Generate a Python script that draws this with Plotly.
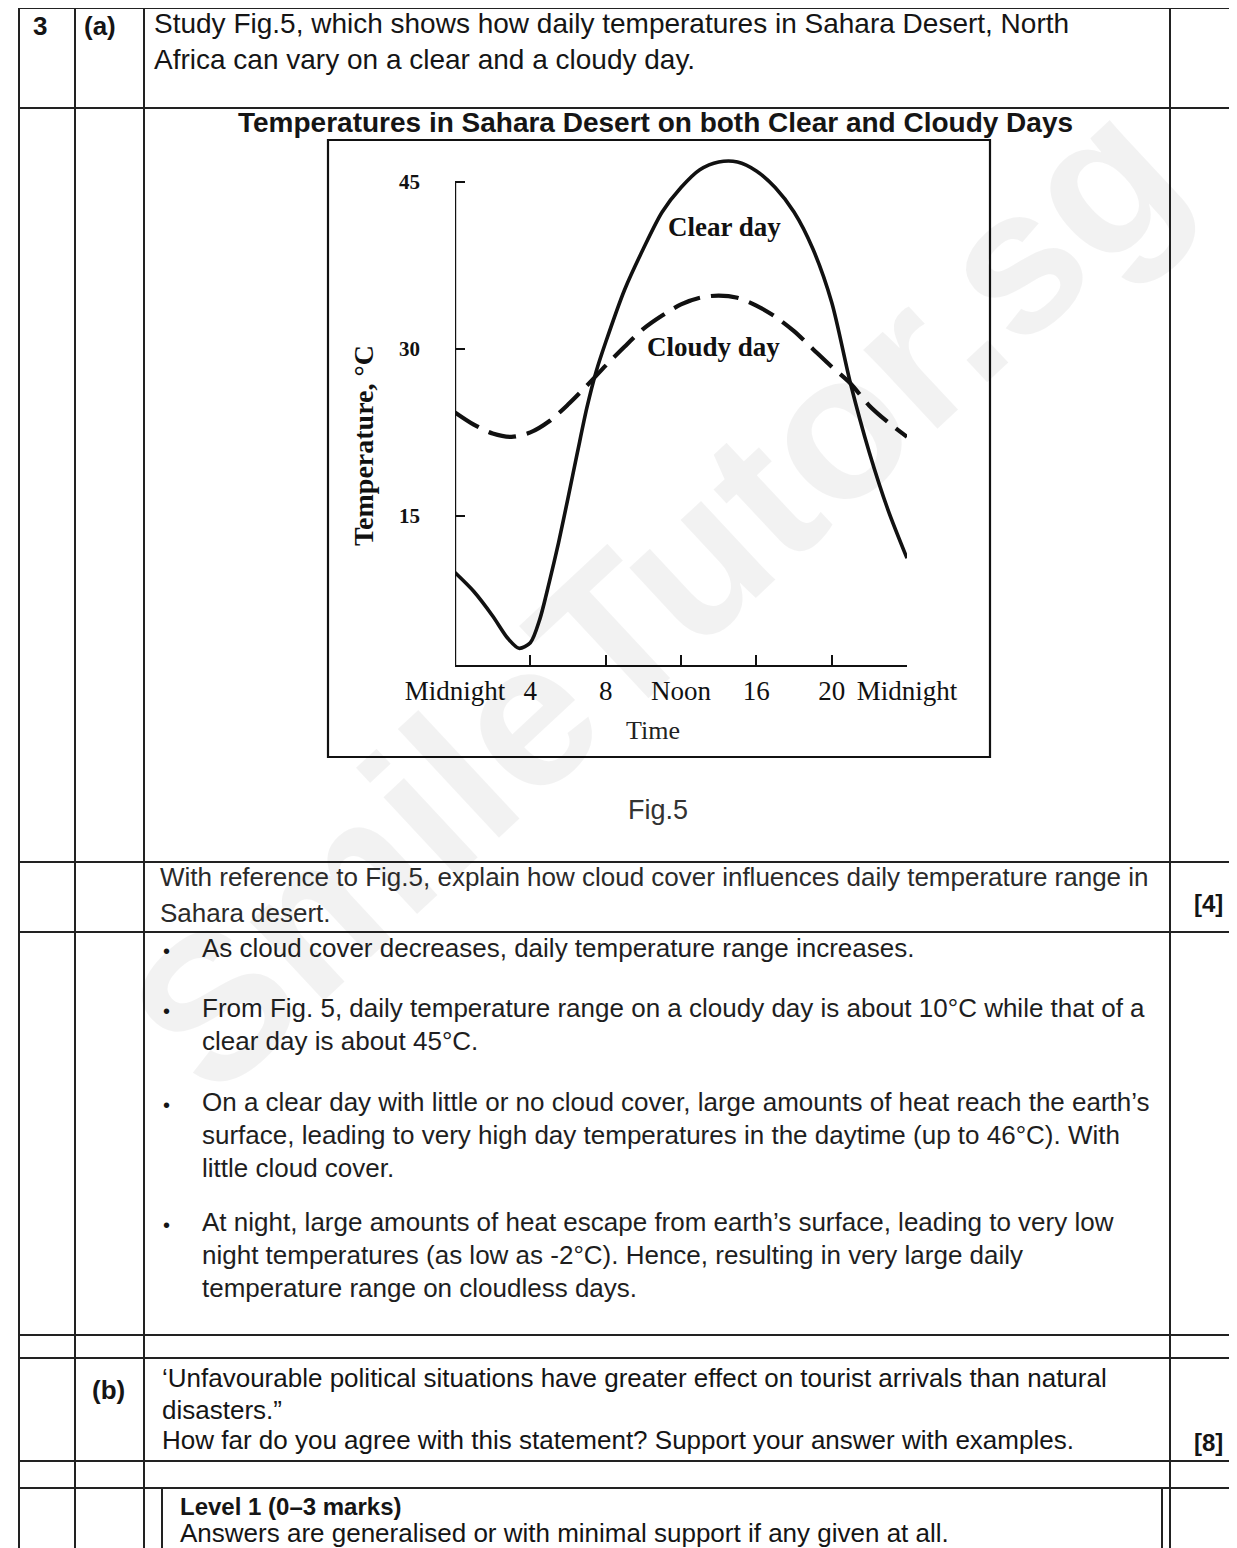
import plotly.graph_objects as go

W, H = 1237, 1548
OFF = 8  # page body margin

# ---------------- data ----------------
hours = [0, 1, 2, 2.8, 3.4, 4, 4.5, 5, 5.5, 6, 6.5, 7, 7.5, 8, 9, 10, 11, 12, 13, 14, 15, 16, 17, 18, 19, 20, 21, 22, 23, 24]
clear_day = [9.9, 8.2, 6.0, 4.0, 3.1, 3.6, 5.7, 9.0, 12.6, 16.6, 20.7, 24.7, 28.0, 30.6, 35.3, 39.0, 42.3, 44.5, 46.1, 46.8,
             46.8, 46.0, 44.5, 42.3, 39.0, 34.2, 26.9, 20.7, 15.5, 11.2]
cloudy_hours = [0, 1, 2, 3, 4, 5, 6, 7, 8, 9, 10, 11, 12, 13, 14, 15, 16, 17, 18, 19, 20, 21, 22, 23, 24]
cloudy_day = [24.3, 23.2, 22.4, 22.1, 22.5, 23.5, 25.0, 26.7, 28.5, 30.2, 31.8, 33.0, 34.0, 34.6, 34.8, 34.6, 33.9, 32.9,
              31.6, 30.0, 28.4, 26.9, 24.9, 23.4, 22.1]
x_tickvals = [0, 4, 8, 12, 16, 20, 24]
x_ticktext = ["Midnight", "4", "8", "Noon", "16", "20", "Midnight"]
y_tickvals = [15, 30, 45]
y_ticktext = ["15", "30", "45"]

SANS = "Liberation Sans, Arial, sans-serif"
SERIF = "Liberation Serif, Times New Roman, serif"
INK = "#151515"


def px(x):
    return (x - OFF) / W


def py(y):
    return 1 - (y - OFF) / H


fig = go.Figure()
fig.add_trace(go.Scatter(x=hours, y=clear_day, mode="lines",
                         line=dict(color="#111", width=3.6, shape="spline", smoothing=0.8),
                         showlegend=False, hoverinfo="skip"))
fig.add_trace(go.Scatter(x=cloudy_hours, y=cloudy_day, mode="lines",
                         line=dict(color="#111", width=4.2, shape="spline", smoothing=0.8, dash="28px,11px"),
                         showlegend=False, hoverinfo="skip"))

shapes = []


def hline(y, x0, x1, w=2):
    shapes.append(dict(type="line", xref="paper", yref="paper", x0=px(x0), x1=px(x1), y0=py(y), y1=py(y),
                       line=dict(color="#222", width=w)))


def vline(x, y0, y1, w=2):
    shapes.append(dict(type="line", xref="paper", yref="paper", x0=px(x), x1=px(x), y0=py(y0), y1=py(y1),
                       line=dict(color="#222", width=w)))


# table grid
for y in [8, 108, 862, 932, 1335, 1358, 1461, 1488]:
    hline(y, 18, 1245)
for x in [19, 75, 144, 1170]:
    vline(x, 8, 1556)
# level 1 box
vline(162, 1488, 1556)
vline(1162, 1488, 1556)
# chart frame
shapes.append(dict(type="rect", xref="paper", yref="paper", x0=px(328), x1=px(990), y0=py(757), y1=py(140),
                   line=dict(color="#111", width=2.2)))
# y axis line (data coords)
shapes.append(dict(type="line", xref="x", yref="y", x0=0, x1=0, y0=1.6, y1=45, line=dict(color="#111", width=2.4)))

ann = []


def text(x, y, s, size=26, font=SANS, bold=False, anchor="left", color=INK, angle=0):
    if bold:
        s = "<b>" + s + "</b>"
    ann.append(dict(x=px(x), y=py(y), xref="paper", yref="paper", text=s, showarrow=False, xanchor=anchor,
                    yanchor="middle", textangle=angle, font=dict(family=font, size=size, color=color)))


# watermark
ann.append(dict(x=px(655), y=py(595), xref="paper", yref="paper", text="<b>SmileTutor.sg</b>", showarrow=False,
                textangle=-43, font=dict(family=SANS, size=205, color="rgba(0,0,0,0.05)")))

text(40, 26, "3", 26, bold=True, anchor="center")
text(100, 26, "(a)", 26, bold=True, anchor="center")
text(152, 23, "Study Fig.5, which shows how daily temperatures in Sahara Desert, North", 28)
text(152, 59, "Africa can vary on a clear and a cloudy day.", 28)
text(655, 123, "Temperatures in Sahara Desert on both Clear and Cloudy Days", 28, bold=True, anchor="center")
text(658, 810, "Fig.5", 27, anchor="center", color="#333")
text(158, 877, "With reference to Fig.5, explain how cloud cover influences daily temperature range in", 26, color="#2a2a2a")
text(158, 913, "Sahara desert.", 26, color="#2a2a2a")
text(1208, 903, "[4]", 24, bold=True, anchor="center")

bul = [
    (948, ["As cloud cover decreases, daily temperature range increases."]),
    (1008, ["From Fig. 5, daily temperature range on a cloudy day is about 10°C while that of a",
            "clear day is about 45°C."]),
    (1102, ["On a clear day with little or no cloud cover, large amounts of heat reach the earth\u2019s",
            "surface, leading to very high day temperatures in the daytime (up to 46°C). With",
            "little cloud cover."]),
    (1222, ["At night, large amounts of heat escape from earth\u2019s surface, leading to very low",
            "night temperatures (as low as -2°C). Hence, resulting in very large daily",
            "temperature range on cloudless days."]),
]
for y0, lines in bul:
    text(166, y0 + 3, "•", 20, anchor="center")
    for i, ln in enumerate(lines):
        text(200, y0 + i * 33, ln, 26, color="#1e1e1e")

text(108, 1390, "(b)", 26, bold=True, anchor="center")
text(160, 1378, "\u2018Unfavourable political situations have greater effect on tourist arrivals than natural", 26)
text(160, 1410, "disasters.\u201d", 26)
text(160, 1440, "How far do you agree with this statement? Support your answer with examples.", 26)
text(1208, 1442, "[8]", 24, bold=True, anchor="center")
text(178, 1506, "Level 1 (0\u20133 marks)", 24, bold=True)
text(178, 1533, "Answers are generalised or with minimal support if any given at all.", 26)

# chart axis titles
text(363, 446, "Temperature, °C", 28, font=SERIF, bold=True, anchor="center", color="#111", angle=-90)
text(653, 730, "Time", 26, font=SERIF, anchor="center", color="#222")

# chart labels (data coords)
ann.append(dict(x=14.3, y=41.0, xref="x", yref="y", text="<b>Clear day</b>", showarrow=False,
                font=dict(family=SERIF, size=27, color="#111")))
ann.append(dict(x=13.7, y=30.2, xref="x", yref="y", text="<b>Cloudy day</b>", showarrow=False,
                font=dict(family=SERIF, size=27, color="#111")))

fig.update_layout(
    width=W, height=H, margin=dict(l=0, r=0, t=0, b=0, autoexpand=False),
    paper_bgcolor="white", plot_bgcolor="rgba(0,0,0,0)",
    shapes=shapes, annotations=ann,
    xaxis=dict(domain=[px(455), px(907)], range=[0, 24], tickvals=x_tickvals, ticktext=x_ticktext,
               ticks="inside", ticklen=10, tickwidth=2, tickcolor="#111", showline=True, linewidth=2.4,
               linecolor="#111", showgrid=False, zeroline=False, fixedrange=True, automargin=False,
               tickfont=dict(family=SERIF, size=27, color="#111")),
    yaxis=dict(domain=[py(665), py(137.5)], range=[1.6, 49], tickvals=y_tickvals, ticktext=y_ticktext,
               ticks="inside", ticklen=10, tickwidth=2, tickcolor="#111", showline=False, showgrid=False,
               zeroline=False, fixedrange=True, ticklabelstandoff=34, automargin=False,
               tickfont=dict(family=SERIF, size=21, color="#111", weight="bold")),
)

fig.write_html("out.html")
